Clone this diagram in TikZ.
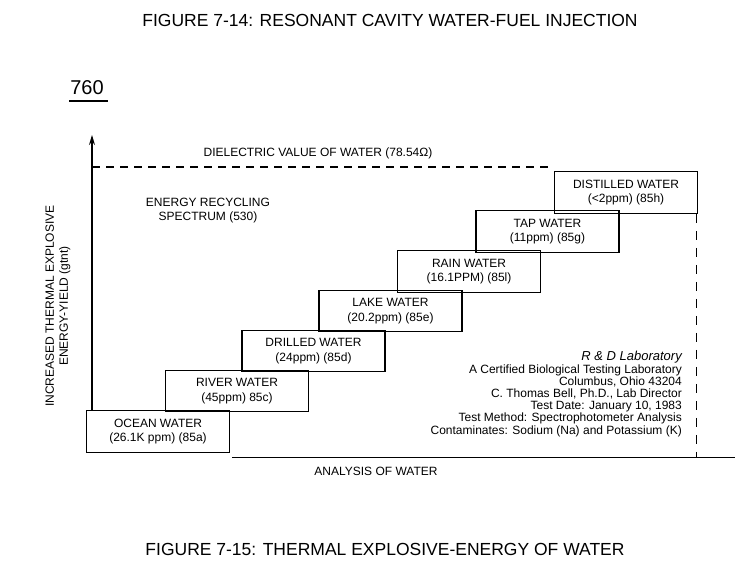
\documentclass[tikz,border=0pt]{standalone}
\usepackage{fontspec}
\setmainfont{Liberation Sans}
\usetikzlibrary{arrows.meta}
\begin{document}
\tikzset{
  wbox/.style={draw, line width=1.2pt, minimum width=143pt, minimum height=41.5pt, inner sep=0pt, align=center, font=\fontsize{12}{14.5}\selectfont},
  lbl/.style={inner sep=0pt, align=center, font=\fontsize{12}{14}\selectfont},
  bigtitle/.style={inner sep=0pt, font=\fontsize{17.5}{20}\selectfont},
  dsh/.style={line width=1.1pt, dash pattern=on 8pt off 6pt},
}
\begin{tikzpicture}[x=1pt,y=-1pt]
\useasboundingbox (0,0) rectangle (749,569);
\node[bigtitle] (title) at (390,20) {FIGURE 7-14: RESONANT CAVITY WATER-FUEL INJECTION};
\node[inner sep=0pt, font=\fontsize{20}{24}\selectfont] (num) at (87,88) {760};
\draw[line width=1.3pt] (69,101) -- (108,101);

\node[wbox] (ocean) at (158,431.5) {OCEAN WATER\\(26.1K ppm) (85a)};
\node[wbox] (river) at (237,391) {RIVER WATER\\(45ppm) 85c)};
\node[wbox] (drilled) at (313.5,351) {DRILLED WATER\\(24ppm) (85d)};
\node[wbox] (lake) at (390.5,311) {LAKE WATER\\(20.2ppm) (85e)};
\node[wbox] (rain) at (469,271.5) {RAIN WATER\\(16.1PPM) (85l)};
\node[wbox] (tap) at (547.5,231.5) {TAP WATER\\(11ppm) (85g)};
\node[wbox] (dist) at (626,192.5) {DISTILLED WATER\\(<2ppm) (85h)};

\coordinate (ytop) at (92,135);
\draw[line width=1.3pt, -{Stealth[length=10pt,width=6pt]}] (ocean.north -| ytop) -- (ytop);
\coordinate (dl) at (92,167);
\draw[dsh] (dl) -- (dl -| dist.west);
\coordinate (b0) at (232,457.5);
\coordinate (b1) at (735,457.5);
\draw[line width=1.4pt] (b0) -- (b1);
\draw[dsh, dash pattern=on 9pt off 8pt] ([xshift=-1.5pt]dist.south east) -- ([xshift=-1.5pt]dist.south east |- b0);

\node[lbl] (diel) at (318,153) {DIELECTRIC VALUE OF WATER (78.54Ω)};
\node[lbl] (ers) at (208,211) {ENERGY RECYCLING\\SPECTRUM (530)};
\node[lbl, rotate=90] (ylab) at (58,306) {INCREASED THERMAL EXPLOSIVE\\ENERGY-YIELD (gtnt)};
\node[lbl] (anal) at (376,471) {ANALYSIS OF WATER};
\node[lbl, align=right, anchor=east, font=\fontsize{12}{12.2}\selectfont] (lab) at (682,394) {{\fontsize{13}{12.2}\selectfont\itshape R \& D Laboratory}\\A Certified Biological Testing Laboratory\\Columbus, Ohio 43204\\C. Thomas Bell, Ph.D., Lab Director\\Test Date: January 10, 1983\\Test Method: Spectrophotometer Analysis\\Contaminates: Sodium (Na) and Potassium (K)};

\node[bigtitle] (title2) at (385,549) {FIGURE 7-15: THERMAL EXPLOSIVE-ENERGY OF WATER};
\end{tikzpicture}
\end{document}
